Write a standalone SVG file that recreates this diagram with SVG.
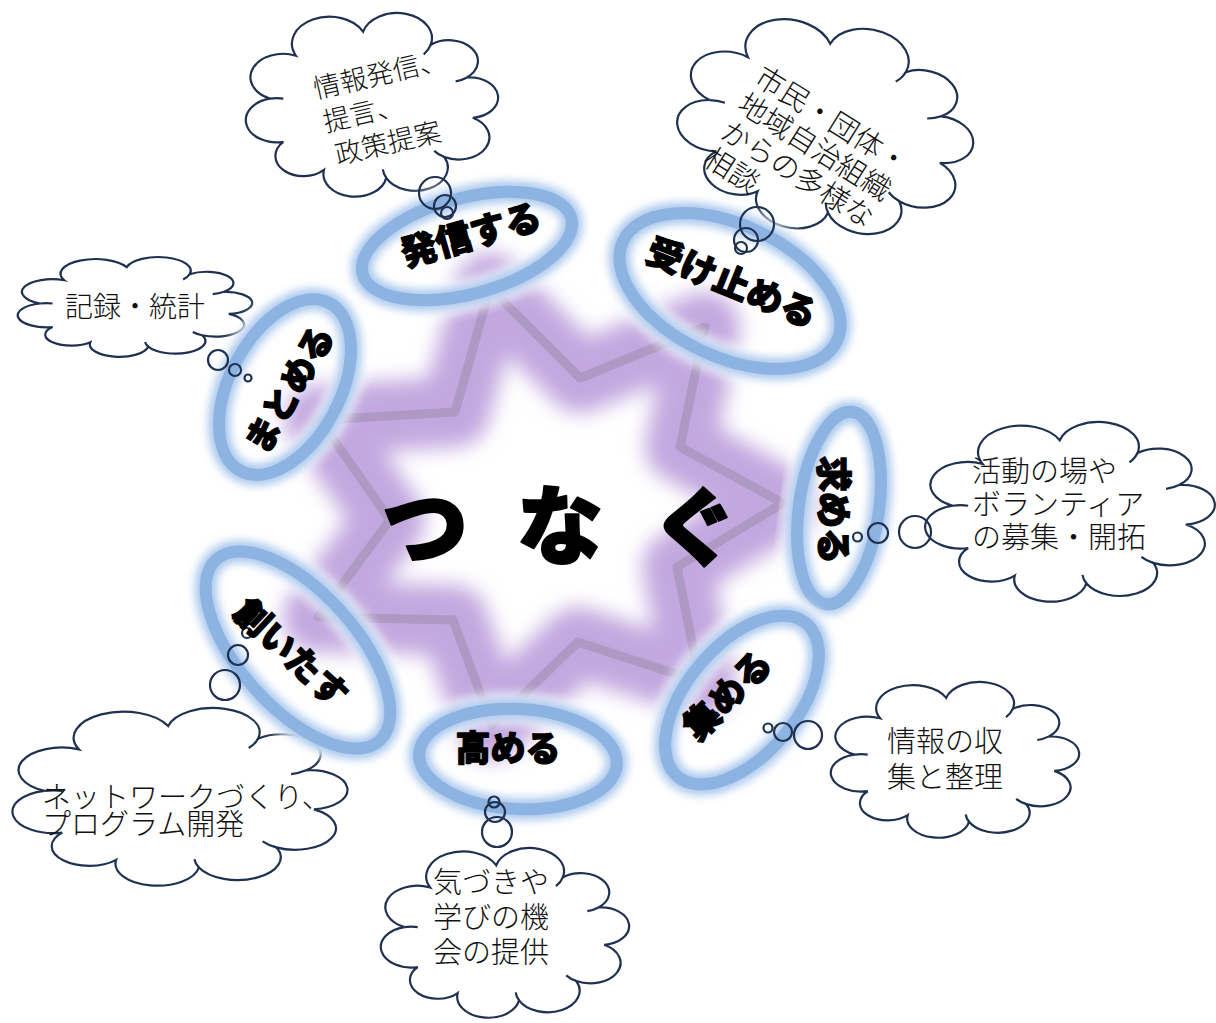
<svg xmlns="http://www.w3.org/2000/svg" width="1216" height="1023" viewBox="0 0 1216 1023">
<style>
.cl{fill:#fff;stroke:#1e3150;stroke-width:2.2}
.ci{fill:none;stroke:#1e3150;stroke-width:2.2}
.bub{fill:none;stroke:#1e3150;stroke-width:2.2}
.ct{font-family:"Noto Sans CJK JP","Noto Sans",sans-serif;font-weight:300;font-size:29px;fill:#111}
.lb{font-family:"Noto Sans CJK JP","Noto Sans",sans-serif;font-weight:900;font-size:36px;fill:#000;stroke:#000;stroke-width:1.3;stroke-linejoin:round;text-anchor:middle;dominant-baseline:central}
.big{font-family:"Noto Sans CJK JP","Noto Sans",sans-serif;font-weight:900;font-size:86px;fill:#000;stroke:#000;stroke-width:2;stroke-linejoin:round;text-anchor:middle;dominant-baseline:central}
.halo{fill:none;stroke:#fff;stroke-width:30;filter:url(#soft)}
.glow{fill:none;stroke:#9dbfea;stroke-width:22;filter:url(#blur4);opacity:.85}
.ring{fill:none;stroke:#8db3e2;stroke-width:12}
</style>
<defs>
<filter id="starBlur" x="-20%" y="-20%" width="140%" height="140%"><feGaussianBlur stdDeviation="10"/></filter>
<filter id="soft" x="-25%" y="-25%" width="150%" height="150%"><feGaussianBlur stdDeviation="6"/></filter>
<filter id="blur4" x="-25%" y="-25%" width="150%" height="150%"><feGaussianBlur stdDeviation="4"/></filter>
<path id="cloud" vector-effect="non-scaling-stroke" d="M-0.0697,-0.797A0.01,0.01 0 0 1 0.4589,-0.6553A0.01,0.01 0 0 1 0.7417,-0.2997A0.01,0.01 0 0 1 0.7878,0.1389A0.01,0.01 0 0 1 0.5657,0.5657A0.01,0.01 0 0 1 0.1113,0.7922A0.01,0.01 0 0 1 -0.3756,0.7063A0.01,0.01 0 0 1 -0.6928,0.4A0.01,0.01 0 0 1 -0.797,-0.0697A0.01,0.01 0 0 1 -0.5945,-0.5353A0.01,0.01 0 0 1 -0.0697,-0.797Z"/>
<path id="cloudIn" vector-effect="non-scaling-stroke" d="M0.4589,-0.6553A0.2736,0.2736 0 0 1 0.4042,-0.5503M0.7417,-0.2997A0.2272,0.2272 0 0 1 0.6533,-0.2566M0.5657,0.5657A0.2406,0.2406 0 0 1 0.4858,0.4988M0.1113,0.7922A0.2538,0.2538 0 0 1 0.0848,0.6989M-0.797,-0.0697A0.2406,0.2406 0 0 1 -0.6928,-0.0698"/>
</defs>
<rect width="1216" height="1023" fill="#fff"/>

<g id="star">
<polygon points="490,288 580,378 705,327 680,447 783,503 677,567 700,682 578,642 492,725 453,620 318,617 390,520 320,420 455,412" fill="none" stroke="#c2a8df" stroke-width="70" stroke-linejoin="round" filter="url(#starBlur)"/>
<polygon points="490,288 580,378 705,327 680,447 783,503 677,567 700,682 578,642 492,725 453,620 318,617 390,520 320,420 455,412" fill="none" stroke="#ad99c3" stroke-width="9" stroke-linejoin="round"/>
</g>

<g id="cloud-teigen">
<use href="#cloud" class="cl" transform="translate(372,105) scale(128,92)"/>
<use href="#cloudIn" class="ci" transform="translate(372,105) scale(128,92)"/>
<g transform="translate(327,86) rotate(-13)"><text class="ct" style="font-size:27px"><tspan x="-13.5" y="10">情報発信、</tspan><tspan x="-11.5" y="44.5">提言、</tspan><tspan x="-7.5" y="79">政策提案</tspan></text></g>
</g>

<g id="cloud-soudan">
<use href="#cloud" class="cl" transform="translate(826,128) rotate(10) scale(150,105)"/>
<use href="#cloudIn" class="ci" transform="translate(826,128) rotate(10) scale(150,105)"/>
<g transform="translate(771,81) rotate(32)"><text class="ct"><tspan x="-15" y="11">市民・団体・</tspan><tspan x="-15" y="43">地域自治組織</tspan><tspan x="-15" y="75">からの多様な</tspan><tspan x="-15" y="107">相談</tspan></text></g>
</g>

<g id="cloud-kiroku">
<use href="#cloud" class="cl" transform="translate(135,307) scale(119,50)"/>
<use href="#cloudIn" class="ci" transform="translate(135,307) scale(119,50)"/>
<text class="ct" x="135" y="317" text-anchor="middle" style="font-size:28px">記録・統計</text>
</g>

<g id="cloud-katsudou">
<use href="#cloud" class="cl" transform="translate(1070,512) scale(147,90)"/>
<use href="#cloudIn" class="ci" transform="translate(1070,512) scale(147,90)"/>
<text class="ct"><tspan x="972" y="482">活動の場や</tspan><tspan x="972" y="515">ボランティア</tspan><tspan x="972" y="548">の募集・開拓</tspan></text>
</g>

<g id="cloud-shuushuu">
<use href="#cloud" class="cl" transform="translate(955,760) scale(126,78)"/>
<use href="#cloudIn" class="ci" transform="translate(955,760) scale(126,78)"/>
<text class="ct"><tspan x="887" y="752">情報の収</tspan><tspan x="887" y="788">集と整理</tspan></text>
</g>

<g id="cloud-network">
<use href="#cloud" class="cl" transform="translate(180,797) scale(170,89)"/>
<use href="#cloudIn" class="ci" transform="translate(180,797) scale(170,89)"/>
<text class="ct"><tspan x="42" y="808">ネットワークづくり、</tspan><tspan x="42" y="835">プログラム開発</tspan></text>
</g>

<g id="cloud-kizuki">
<use href="#cloud" class="cl" transform="translate(505,933) scale(126,85)"/>
<use href="#cloudIn" class="ci" transform="translate(505,933) scale(126,85)"/>
<text class="ct"><tspan x="433" y="893">気づきや</tspan><tspan x="433" y="928">学びの機</tspan><tspan x="433" y="963">会の提供</tspan></text>
</g>

<g id="node-hasshin" transform="translate(467,246) rotate(-15)">
<ellipse class="halo" rx="108" ry="48"/><ellipse class="glow" rx="108" ry="48"/><ellipse class="ring" rx="108" ry="48"/>
</g>
<g id="node-uketomeru" transform="translate(730,291) rotate(25)">
<ellipse class="halo" rx="118" ry="66"/><ellipse class="glow" rx="118" ry="66"/><ellipse class="ring" rx="118" ry="66"/>
</g>
<g id="node-motomeru" transform="translate(839,508) rotate(8)">
<ellipse class="halo" rx="40" ry="97"/><ellipse class="glow" rx="40" ry="97"/><ellipse class="ring" rx="40" ry="97"/>
</g>
<g id="node-atsumeru" transform="translate(742,700) rotate(-50)">
<ellipse class="halo" rx="100" ry="55"/><ellipse class="glow" rx="100" ry="55"/><ellipse class="ring" rx="100" ry="55"/>
</g>
<g id="node-takameru" transform="translate(518,759) rotate(3)">
<ellipse class="halo" rx="99" ry="50"/><ellipse class="glow" rx="99" ry="50"/><ellipse class="ring" rx="99" ry="50"/>
</g>
<g id="node-tsukuridasu" transform="translate(298,650) rotate(48)">
<ellipse class="halo" rx="122" ry="58"/><ellipse class="glow" rx="122" ry="58"/><ellipse class="ring" rx="122" ry="58"/>
</g>
<g id="node-matomeru" transform="translate(285,387) rotate(-62)">
<ellipse class="halo" rx="95" ry="55"/><ellipse class="glow" rx="95" ry="55"/><ellipse class="ring" rx="95" ry="55"/>
</g>

<g id="connectors">
<circle class="bub" cx="435" cy="193" r="16"/><circle class="bub" cx="445" cy="206" r="11"/><circle class="bub" cx="447" cy="213" r="6"/>
<circle class="bub" cx="757" cy="224" r="17"/><circle class="bub" cx="746" cy="240" r="12"/><circle class="bub" cx="741" cy="248" r="6"/>
<circle class="bub" cx="218" cy="360" r="10"/><circle class="bub" cx="235" cy="370" r="6"/><circle class="bub" cx="248" cy="378" r="3.5"/>
<circle class="bub" cx="915" cy="532" r="16"/><circle class="bub" cx="878" cy="533" r="10"/><circle class="bub" cx="857.5" cy="537" r="4.5"/>
<circle class="bub" cx="808" cy="735" r="14"/><circle class="bub" cx="783" cy="732" r="9"/><circle class="bub" cx="768" cy="728" r="4.5"/>
<circle class="bub" cx="225" cy="685" r="15"/><circle class="bub" cx="238" cy="655" r="10"/><circle class="bub" cx="247" cy="633" r="5"/>
<circle class="bub" cx="497" cy="832" r="15"/><circle class="bub" cx="495" cy="812" r="10"/><circle class="bub" cx="494" cy="802" r="5.5"/>
</g>

<g id="labels">
<text class="lb" transform="translate(470,232) rotate(-16)">発信する</text>
<text class="lb" transform="translate(733,280) rotate(22)">受け止める</text>
<text class="lb" transform="translate(836,510) rotate(90)">求める</text>
<text class="lb" transform="translate(725,693) rotate(-45)">集める</text>
<text class="lb" transform="translate(508,745)" style="font-size:35px">高める</text>
<text class="lb" transform="translate(293,651) rotate(43)" style="font-size:35px">創いたす</text>
<text class="lb" transform="translate(287,388) rotate(-60)" style="font-size:35px">まとめる</text>
</g>

<g id="node-tsunagu">
<text class="big" x="425" y="521">つ</text>
<text class="big" x="560" y="520">な</text>
<text class="big" x="695" y="521">ぐ</text>
</g>
</svg>
